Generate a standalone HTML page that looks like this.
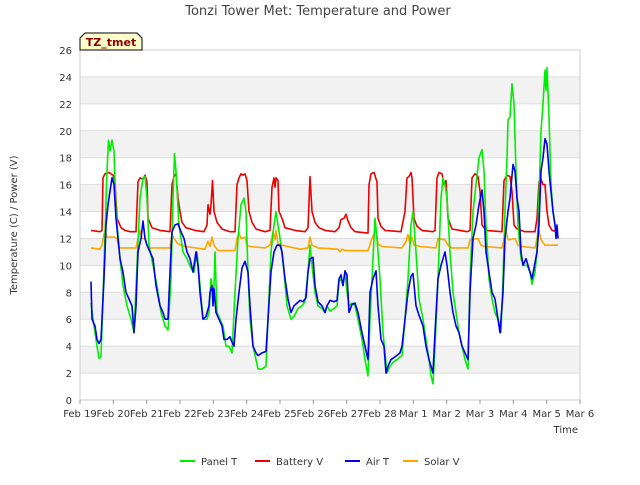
<!DOCTYPE html>
<html><head><meta charset="utf-8"><style>
body{margin:0;background:#fff;}
svg text{font-family:"DejaVu Sans","Liberation Sans",sans-serif;}
</style></head><body>
<svg id="chart" width="640" height="480" xmlns="http://www.w3.org/2000/svg">
<rect width="640" height="480" fill="#fff"/>
<text x="318" y="15" font-size="13" fill="#444" text-anchor="middle">Tonzi Tower Met: Temperature and Power</text>
<g id="bands"></g>
<g id="grid"></g>
<rect x="80" y="50" width="500" height="350" fill="none" stroke="#ccc"/>
<g id="yticks"></g>
<g id="xticks"></g>
<g id="series"></g>
<text transform="translate(17,225) rotate(-90)" font-size="10" fill="#333" text-anchor="middle">Temperature (C) / Power (V)</text>
<text x="578" y="433" font-size="10" fill="#333" text-anchor="end">Time</text>
<g>
<path d="M80,50 L80,38 L85,33 L137,33 L142,38 L142,50 Z" fill="#ffffcc" stroke="#000"/>
<text x="111" y="46" font-size="11" font-weight="bold" fill="#8b0000" text-anchor="middle">TZ_tmet</text>
</g>
<g id="legend"></g>
</svg>
<script>
const yTicks=[0,2,4,6,8,10,12,14,16,18,20,22,24,26];
const xTickLabels=["Feb 19","Feb 20","Feb 21","Feb 22","Feb 23","Feb 24","Feb 25","Feb 26","Feb 27","Feb 28","Mar 1","Mar 2","Mar 3","Mar 4","Mar 5","Mar 6"];
const seriesNames=["Panel T","Battery V","Air T","Solar V"];
const panelT_t=[0.33,0.42,0.51,0.57,0.63,0.72,0.81,0.855,0.90,0.96,1.02,1.08,1.20,1.29,1.41,1.53,1.62,1.71,1.80,1.89,1.95,2.01,2.07,2.19,2.31,2.43,2.55,2.64,2.73,2.79,2.835,2.88,2.97,3.09,3.21,3.33,3.42,3.51,3.60,3.69,3.81,3.87,3.93,3.99,4.02,4.05,4.11,4.20,4.29,4.38,4.47,4.56,4.65,4.74,4.83,4.92,4.98,5.04,5.10,5.19,5.28,5.34,5.46,5.58,5.64,5.73,5.82,5.88,5.94,6.03,6.12,6.21,6.33,6.42,6.54,6.66,6.75,6.84,6.90,6.96,7.05,7.14,7.26,7.35,7.41,7.50,7.62,7.71,7.77,7.83,7.89,7.95,8.01,8.07,8.16,8.25,8.34,8.46,8.55,8.64,8.70,8.76,8.85,8.91,9.00,9.09,9.15,9.21,9.30,9.39,9.51,9.60,9.66,9.75,9.84,9.93,9.99,10.08,10.17,10.29,10.38,10.47,10.53,10.59,10.65,10.74,10.83,10.89,10.95,11.01,11.10,11.19,11.28,11.37,11.46,11.55,11.64,11.70,11.79,11.88,11.97,12.06,12.12,12.18,12.27,12.36,12.45,12.54,12.63,12.69,12.75,12.81,12.84,12.90,12.96,13.02,13.08,13.14,13.23,13.32,13.41,13.50,13.56,13.65,13.71,13.77,13.83,13.89,13.95,13.98,14.01,14.07,14.13,14.19,14.28,14.34];
const panelT_v=[7.2,5.5,4,3.1,3.2,10,17,19.3,18.5,19.3,18.5,14,10.5,8.5,7,6,5,10,15,16.5,16.6,15,11.5,10,8.5,6.5,5.5,5.2,9,15,18.3,17,13,11,10.5,9.8,9.5,11,8.5,6,6,6.5,9,8,8.5,11,6.5,6,5.5,4,4,3.5,8,12,14.5,15,14,9.5,6,4,3,2.3,2.3,2.5,6,11,13,14,13,11.5,9.5,7,6,6.2,6.8,7,7.3,9.5,11.5,10,8,7,6.8,6.5,7,6.6,6.8,7,8.8,9,8.5,9.5,8,7,7.2,7,6,4.5,3,1.8,6,9,13.5,12,9,5,3.5,2,2.5,2.8,3,3.2,3.3,6,9,13,14,11,7.5,6,4.5,3,1.8,1.2,4,9,15,16.5,16,15,11,8,6.5,5,4,3,2.3,9,14,16,18,18.6,17,13,9,7.5,6.5,6,5,9,14,18,20.8,21,23.5,22,17,13,10.5,10,10,9.5,8.6,9.5,11,15,20,22,24.5,23,24.7,21,16,14,12.5,12];
const airT_t=[0.33,0.36,0.45,0.51,0.57,0.63,0.72,0.78,0.84,0.90,0.96,1.02,1.08,1.14,1.20,1.29,1.38,1.47,1.56,1.62,1.68,1.74,1.83,1.89,1.95,2.01,2.10,2.19,2.28,2.40,2.49,2.55,2.64,2.70,2.76,2.85,2.94,3.03,3.12,3.21,3.30,3.39,3.48,3.54,3.60,3.69,3.78,3.87,3.90,3.96,3.99,4.02,4.08,4.17,4.26,4.32,4.41,4.50,4.56,4.62,4.68,4.77,4.86,4.95,5.04,5.10,5.19,5.28,5.34,5.46,5.58,5.64,5.73,5.82,5.91,6.00,6.06,6.15,6.24,6.33,6.42,6.51,6.60,6.69,6.78,6.84,6.90,6.99,7.05,7.14,7.26,7.35,7.41,7.50,7.62,7.71,7.77,7.83,7.89,7.95,8.01,8.07,8.16,8.25,8.34,8.46,8.55,8.64,8.70,8.79,8.88,8.94,9.03,9.12,9.18,9.24,9.33,9.45,9.60,9.66,9.75,9.84,9.93,9.99,10.08,10.17,10.29,10.38,10.47,10.53,10.59,10.65,10.74,10.83,10.89,10.95,11.01,11.10,11.19,11.28,11.37,11.46,11.55,11.64,11.70,11.79,11.88,11.97,12.06,12.12,12.18,12.27,12.36,12.45,12.54,12.60,12.69,12.75,12.84,12.90,12.99,13.05,13.11,13.17,13.23,13.29,13.38,13.44,13.50,13.56,13.62,13.71,13.77,13.83,13.89,13.95,14.01,14.07,14.13,14.19,14.25,14.28,14.31,14.34];
const airT_v=[8.8,6,5.5,4.5,4.2,4.5,9,13,14.5,15.5,16.5,16,13.5,12,10.5,9.5,8,7.5,7,5,7,11,12,13.3,12,11.5,11,10.5,8.5,7,6.5,6,6,9.5,12.5,13,13.1,12.5,12,11,10.5,9.5,11,10,8,6,6.2,7,8,8.5,7,8.3,6.5,6,5.5,4.5,4.5,4.7,4.3,4,6,8,9.8,10.3,9.5,7,4,3.5,3.3,3.5,3.6,6,9.5,11,11.5,11.5,11,9,7.5,6.5,7,7.2,7.4,7.3,7.6,9.5,10.5,10.6,8.5,7.3,7,6.5,7,7.4,7.3,7.4,9,9.3,8.5,9.6,9.3,6.5,7.1,7.2,6.5,5,4,3,8,9,9.6,7,4.5,4,2,2.5,3,3.2,3.5,4,6,8,9.2,9.4,7,6.3,5.5,4,3,2.5,2,5,9,10,10.5,11,10,8,6.5,5.5,5,4,3.5,3,8,12,13,14.5,15.6,14,11,9.5,8,7.5,6,5,8,12,14,15,17.5,17,15,14,11,10,10.5,10,9.5,9,9.8,11,13,17,18,19.4,19,17,15.5,14,13,12,13,12];
const batteryV_t=[0.33,0.60,0.66,0.69,0.75,0.87,0.99,1.05,1.11,1.23,1.35,1.50,1.68,1.74,1.80,1.89,1.95,2.01,2.04,2.16,2.40,2.70,2.76,2.82,2.88,2.94,3.00,3.06,3.18,3.45,3.72,3.81,3.84,3.90,3.93,3.975,4.02,4.11,4.26,4.50,4.65,4.71,4.77,4.83,4.89,4.95,5.01,5.07,5.16,5.28,5.55,5.70,5.76,5.82,5.85,5.88,5.94,5.97,6.06,6.15,6.45,6.75,6.84,6.90,6.96,7.05,7.17,7.35,7.65,7.77,7.83,7.92,7.98,8.04,8.13,8.25,8.64,8.67,8.73,8.82,8.91,8.94,9.03,9.15,9.63,9.75,9.81,9.87,9.93,9.96,10.02,10.11,10.26,10.59,10.65,10.71,10.77,10.86,10.92,10.98,11.04,11.16,11.40,11.61,11.70,11.76,11.85,11.94,12.00,12.06,12.18,12.66,12.72,12.81,12.90,12.96,13.02,13.11,13.35,13.65,13.71,13.77,13.83,13.89,13.95,14.01,14.07,14.16,14.34];
const batteryV_v=[12.6,12.5,12.6,16.5,16.8,16.9,16.7,16.2,13.5,12.8,12.6,12.5,12.5,16.2,16.5,16.4,16.7,16.2,13.5,12.8,12.6,12.5,16,16.6,16.8,15,14,13.2,12.8,12.6,12.5,13,14.5,13.8,14.5,16.3,14,13.2,12.7,12.5,12.5,16,16.5,16.8,16.7,16.8,16.3,14,13.2,12.7,12.5,12.6,15.8,16.5,15.8,16.5,16.3,14,13.5,12.8,12.6,12.5,12.8,16.6,14,13.2,12.8,12.6,12.5,12.8,13.4,13.5,13.8,13.3,12.8,12.5,12.4,16,16.8,16.9,16.2,13.5,12.9,12.6,12.5,14,16.5,16.6,16.9,16.5,13.5,12.9,12.6,12.5,12.6,16.5,16.9,16.8,16,16.3,13.5,12.7,12.6,12.5,12.6,16.5,16.8,16.6,15.5,13,12.6,12.5,16.3,16.7,16.6,15.5,13,12.7,12.5,12.5,13.5,16.2,16.4,16,16,14,13,12.6,12.5];
const solarV_t=[0.33,0.60,0.66,0.72,0.75,0.81,1.05,1.11,1.17,1.68,1.74,1.80,1.86,1.95,2.01,2.10,2.70,2.76,2.82,2.94,3.15,3.75,3.84,3.90,3.96,4.02,4.14,4.65,4.71,4.77,4.83,4.95,5.01,5.10,5.55,5.70,5.76,5.79,5.85,5.88,5.94,6.06,6.60,6.84,6.90,6.96,7.14,7.74,7.80,7.86,7.95,8.64,8.73,8.79,8.88,8.94,9.06,9.66,9.78,9.84,9.90,9.96,10.02,10.20,10.68,10.74,10.95,11.04,11.16,11.64,11.70,11.94,12.03,12.15,12.66,12.72,12.78,12.84,13.05,13.14,13.26,13.65,13.71,13.77,13.83,13.95,14.34];
const solarV_v=[11.3,11.2,11.5,12.3,12.6,12.1,12.1,12,11.3,11.3,12,12.6,12,12,11.5,11.3,11.3,12.3,12,11.6,11.4,11.2,11.8,11.4,12.1,11.5,11.1,11.1,12,12.4,12,12.1,11.5,11.4,11.3,11.5,12.1,12.5,11.9,12.6,11.6,11.5,11.2,11.3,12.1,11.5,11.3,11.2,11.0,11.2,11.1,11.1,11.8,12.2,12.6,11.6,11.4,11.3,11.8,12.3,11.6,12.1,11.5,11.4,11.3,12.0,11.9,11.5,11.3,11.3,11.9,12.0,11.5,11.4,11.3,12,12.6,11.9,12,11.5,11.4,11.3,12,12.6,11.9,11.5,11.5];

const NS="http://www.w3.org/2000/svg";
const L=80,R=580,T=50,B=400,yMax=26,days=15;
const xs=t=>L+(R-L)*t/days;
const ys=v=>B-(B-T)*v/yMax;
function mk(tag,parent,attrs){const e=document.createElementNS(NS,tag);for(const k in attrs)e.setAttribute(k,attrs[k]);document.getElementById(parent).appendChild(e);return e;}
for(let i=0;i<yTicks.length-1;i++){
  if(i%2===1){const b=mk('rect','bands',{x:L,y:ys(yTicks[i+1]),width:R-L,height:ys(yTicks[i])-ys(yTicks[i+1]),fill:'#f2f2f2'});
  
  }
}
yTicks.forEach(v=>{
  const g=mk('line','grid',{x1:L,x2:R,y1:ys(v),y2:ys(v),stroke:'#ddd'});
  
  
  const t=mk('text','yticks',{x:L-8,y:ys(v)+4,'font-size':10,fill:'#333','text-anchor':'end'});
  t.textContent=v;
  
  
});
xTickLabels.forEach((s,i)=>{
  const x=xs(i);
  const tk=mk('line','xticks',{x1:x,x2:x,y1:B,y2:B+4,stroke:'#999'});
  
  
  const t=mk('text','xticks',{x:x,y:B+17,'font-size':10,fill:'#333','text-anchor':'middle'});
  t.textContent=s;
  
  
});
const defs=[[panelT_t,panelT_v,'#00ee00','panel-t-line'],[batteryV_t,batteryV_v,'#ee0000','battery-v-line'],[airT_t,airT_v,'#0000ee','air-t-line'],[solarV_t,solarV_v,'#ffa500','solar-v-line']];
const order=[1,3,0,2];
order.forEach(i=>{
  const [tt,vv,c,n]=defs[i];
  const d=tt.map((t,k)=>(k?'L':'M')+xs(t).toFixed(1)+','+ys(vv[k]).toFixed(1)).join('');
  const p=mk('path','series',{d:d,fill:'none',stroke:c,'stroke-width':1.6,'stroke-linejoin':'round'});
  
  
});
const legX=[180,255,345,403];
seriesNames.forEach((s,i)=>{
  const ln=mk('line','legend',{x1:legX[i],x2:legX[i]+15,y1:461,y2:461,stroke:defs[i][2],'stroke-width':2});
  
  
  const t=mk('text','legend',{x:legX[i]+21,y:465,'font-size':10,fill:'#333'});
  t.textContent=s;
  
  
});
</script>
</body></html>
